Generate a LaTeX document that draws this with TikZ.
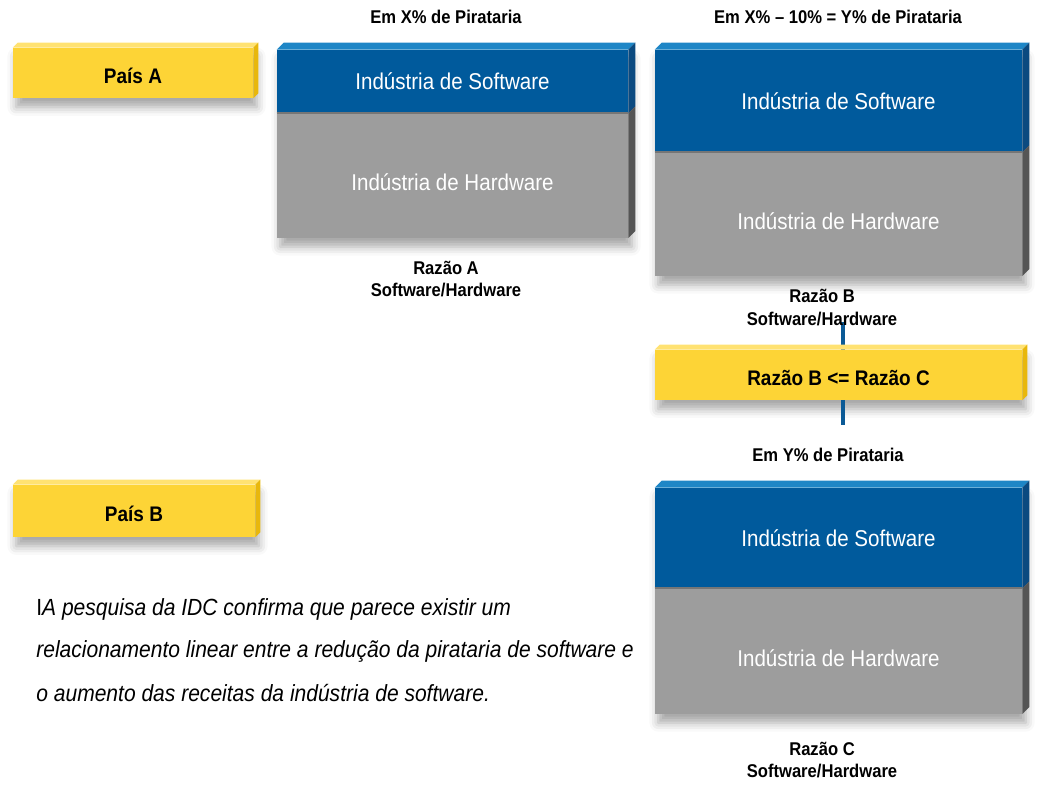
\documentclass[tikz,border=0pt]{standalone}
\usepackage{fontspec}
\setmainfont{Liberation Sans}[FakeStretch=0.9]
\usetikzlibrary{positioning,shadows.blur,backgrounds}

\definecolor{swfront}{HTML}{005A9C}
\definecolor{swtop}{HTML}{1E86C6}
\definecolor{swside}{HTML}{0B4A80}
\definecolor{hwfront}{HTML}{9D9D9D}
\definecolor{hwtop}{HTML}{767676}
\definecolor{hwside}{HTML}{555555}
\definecolor{ylfront}{HTML}{FDD436}
\definecolor{yltop}{HTML}{FFE272}
\definecolor{ylside}{HTML}{E8B70C}
\definecolor{barblue}{HTML}{0B5A96}

\tikzset{
  softbox/.style={rectangle, inner sep=0pt, fill=swfront, text=white,
    font=\fontsize{13}{15}\selectfont},
  hardbox/.style={rectangle, inner sep=0pt, fill=hwfront, text=white,
    text height=17pt, text depth=0pt, font=\fontsize{13}{15}\selectfont},
  yellowbox/.style={rectangle, inner sep=0pt, fill=ylfront,
    text height=11.5pt, text depth=0pt, font=\bfseries\fontsize{12}{14}\selectfont},
  caption/.style={align=center, inner sep=0pt,
    font=\bfseries\fontsize{10.5}{13}\selectfont},
  para/.style={anchor=west, inner sep=0pt,
    font=\itshape\fontsize{13.3}{15}\selectfont},
  bar/.style={barblue, line width=2.8pt},
  boxshadow/.style={blur shadow={shadow xshift=2pt, shadow yshift=-5pt,
    shadow blur radius=5pt, shadow opacity=35}}
}

% top and right faces of a block: node, colour, depth
\newcommand\boxtop[3]{%
  \fill[#2] (#1.north west) -- ++(#3,-#3) -- ([shift={(#3,-#3)}]#1.north east)
    -- (#1.north east) -- cycle;}
\newcommand\boxside[3]{%
  \fill[#2] (#1.north east) -- ++(#3,-#3) -- ([shift={(#3,-#3)}]#1.south east)
    -- (#1.south east) -- cycle;}

\begin{document}
\begin{tikzpicture}[x=0.02cm, y=-0.02cm]
\useasboundingbox (0,0) rectangle (1050,786);

% -----------------------------
% Country tags
% -----------------------------
\node[yellowbox, minimum width=4.8cm, minimum height=1.0cm] (paisA) at (133,73) {País A};
\boxtop{paisA}{yltop}{5} \boxside{paisA}{ylside}{5}
\node[yellowbox, minimum width=4.84cm, minimum height=1.04cm] (paisB) at (134,511) {País B};
\boxtop{paisB}{yltop}{5} \boxside{paisB}{ylside}{5}

% -----------------------------
% Block A (X% piracy)
% -----------------------------
\node[softbox, minimum width=7.02cm, minimum height=1.26cm] (swA) at (452.5,81.5) {Indústria de Software};
\node[hardbox, minimum width=7.02cm, minimum height=2.48cm, below=0pt of swA] (hwA) {Indústria de Hardware};
\boxtop{swA}{swtop}{7} \boxside{swA}{swside}{7} \boxside{hwA}{hwside}{7}
\draw[hwtop, line width=1pt] (hwA.north west) -- (hwA.north east);

% -----------------------------
% Block B (Y% piracy)
% -----------------------------
\node[softbox, minimum width=7.34cm, minimum height=2.04cm] (swB) at (838.5,101) {Indústria de Software};
\node[hardbox, minimum width=7.34cm, minimum height=2.46cm, below=0pt of swB] (hwB) {Indústria de Hardware};
\boxtop{swB}{swtop}{7} \boxside{swB}{swside}{7} \boxside{hwB}{hwside}{7}
\draw[hwtop, line width=1pt] (hwB.north west) -- (hwB.north east);

% comparison tag
\node[yellowbox, minimum width=7.34cm, minimum height=1.0cm] (razBC) at (838.5,375) {Razão B <= Razão C};
\boxtop{razBC}{yltop}{5} \boxside{razBC}{ylside}{5}

% -----------------------------
% Block C
% -----------------------------
\node[softbox, minimum width=7.34cm, minimum height=2.0cm] (swC) at (838.5,538) {Indústria de Software};
\node[hardbox, minimum width=7.34cm, minimum height=2.5cm, below=0pt of swC] (hwC) {Indústria de Hardware};
\boxtop{swC}{swtop}{7} \boxside{swC}{swside}{7} \boxside{hwC}{hwside}{7}
\draw[hwtop, line width=1pt] (hwC.north west) -- (hwC.north east);

% -----------------------------
% Captions
% -----------------------------
\node[caption] (pirA) at (446,17) {Em X\% de Pirataria};
\node[caption] (pirB) at (838,17) {Em X\% – 10\% = Y\% de Pirataria};
\node[caption] (razA) at (446,279) {Razão A\\Software/Hardware};
\node[caption] (razB) at (822,307.5) {Razão B\\Software/Hardware};
\node[caption] (pirC) at (828,455) {Em Y\% de Pirataria};
\node[caption] (razC) at (822,760) {Razão C\\Software/Hardware};

% -----------------------------
% Note
% -----------------------------
\node[para] (note1) at (36,609) {{\upshape I}A pesquisa da IDC confirma que parece existir um};
\node[para] (note2) at (36,651) {relacionamento linear entre a redução da pirataria de software e};
\node[para] (note3) at (36,693) {o aumento das receitas da indústria de software.};

% -----------------------------
% Shadows and link bar
% -----------------------------
\coordinate (barTop) at (843,322);
\coordinate (barBot) at (843,425);
\begin{scope}[on background layer]
  \path[boxshadow] (paisA.north west) rectangle (paisA.south east);
  \path[boxshadow] (paisB.north west) rectangle (paisB.south east);
  \path[boxshadow] (razBC.north west) rectangle (razBC.south east);
  \path[boxshadow] (swA.north west) rectangle (hwA.south east);
  \path[boxshadow] (swB.north west) rectangle (hwB.south east);
  \path[boxshadow] (swC.north west) rectangle (hwC.south east);
  \draw[bar] (barTop) -- (barBot);
\end{scope}

\end{tikzpicture}
\end{document}
